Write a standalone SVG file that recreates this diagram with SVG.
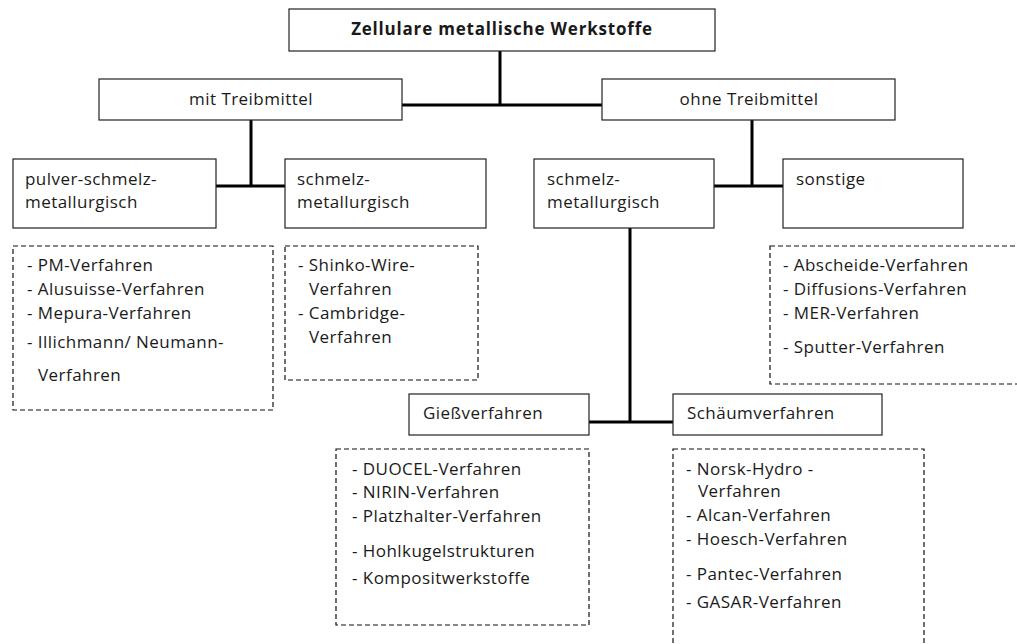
<svg xmlns="http://www.w3.org/2000/svg" width="1017" height="644" viewBox="0 0 1017 644">
<style>
.box{fill:#fff;stroke:#222;stroke-width:1.2}
.dash{fill:none;stroke:#111;stroke-width:1.2;stroke-dasharray:5 3}
.con{fill:none;stroke:#000;stroke-width:3}
text{font-family:"Open Sans","Noto Sans",sans-serif;font-size:17px;letter-spacing:0.45px;fill:#1a1a1a}
.c{text-anchor:middle}
.b{font-weight:bold;font-size:17px;letter-spacing:0.8px}
</style>
<rect width="1017" height="644" fill="#fff"/>
<g id="connectors">
<path class="con" d="M500 51V105M402 105H603"/>
<path class="con" d="M251 120V186M216 186H285"/>
<path class="con" d="M752 120V186M714 186H783"/>
<path class="con" d="M630 228V422M589 422H673"/>
</g>
<g id="root"><rect class="box" x="289" y="9" width="426" height="42"/><text class="c b" x="502" y="35">Zellulare metallische Werkstoffe</text></g>
<g id="mit"><rect class="box" x="99" y="79" width="303" height="41"/><text class="c" x="251" y="105">mit Treibmittel</text></g>
<g id="ohne"><rect class="box" x="602" y="79" width="293" height="41"/><text class="c" x="749" y="105">ohne Treibmittel</text></g>
<g id="pulver"><rect class="box" x="13" y="159" width="203" height="69"/><text x="25" y="185">pulver-schmelz-</text><text x="25" y="208">metallurgisch</text></g>
<g id="schmelz1"><rect class="box" x="285" y="159" width="201" height="69"/><text x="297" y="185">schmelz-</text><text x="297" y="208">metallurgisch</text></g>
<g id="schmelz2"><rect class="box" x="534" y="159" width="180" height="69"/><text x="547" y="185">schmelz-</text><text x="547" y="208">metallurgisch</text></g>
<g id="sonstige"><rect class="box" x="783" y="159" width="180" height="69"/><text x="796" y="185">sonstige</text></g>
<g id="giess"><rect class="box" x="409" y="394" width="180" height="41"/><text x="423" y="419">Gießverfahren</text></g>
<g id="schaeum"><rect class="box" x="673" y="394" width="209" height="41"/><text x="687" y="419">Schäumverfahren</text></g>
<g id="listA"><rect class="dash" x="13" y="246" width="260" height="164"/>
<text x="27" y="271">- PM-Verfahren</text><text x="27" y="295">- Alusuisse-Verfahren</text><text x="27" y="319">- Mepura-Verfahren</text><text x="27" y="348">- Illichmann/ Neumann-</text><text x="38" y="381">Verfahren</text></g>
<g id="listB"><rect class="dash" x="285" y="246" width="193" height="134"/>
<text x="298" y="271">- Shinko-Wire-</text><text x="309" y="295">Verfahren</text><text x="298" y="319">- Cambridge-</text><text x="309" y="343">Verfahren</text></g>
<g id="listC"><rect class="dash" x="770" y="246" width="260" height="138"/>
<text x="783" y="271">- Abscheide-Verfahren</text><text x="783" y="295">- Diffusions-Verfahren</text><text x="783" y="319">- MER-Verfahren</text><text x="783" y="353">- Sputter-Verfahren</text></g>
<g id="listD"><rect class="dash" x="336" y="449" width="253" height="176"/>
<text x="352" y="475">- DUOCEL-Verfahren</text><text x="352" y="498">- NIRIN-Verfahren</text><text x="352" y="522">- Platzhalter-Verfahren</text><text x="352" y="557">- Hohlkugelstrukturen</text><text x="352" y="584">- Kompositwerkstoffe</text></g>
<g id="listE"><rect class="dash" x="673" y="449" width="251" height="210"/>
<text x="686" y="475">- Norsk-Hydro -</text><text x="698" y="497">Verfahren</text><text x="686" y="521">- Alcan-Verfahren</text><text x="686" y="545">- Hoesch-Verfahren</text><text x="686" y="580">- Pantec-Verfahren</text><text x="686" y="608">- GASAR-Verfahren</text></g>
</svg>
